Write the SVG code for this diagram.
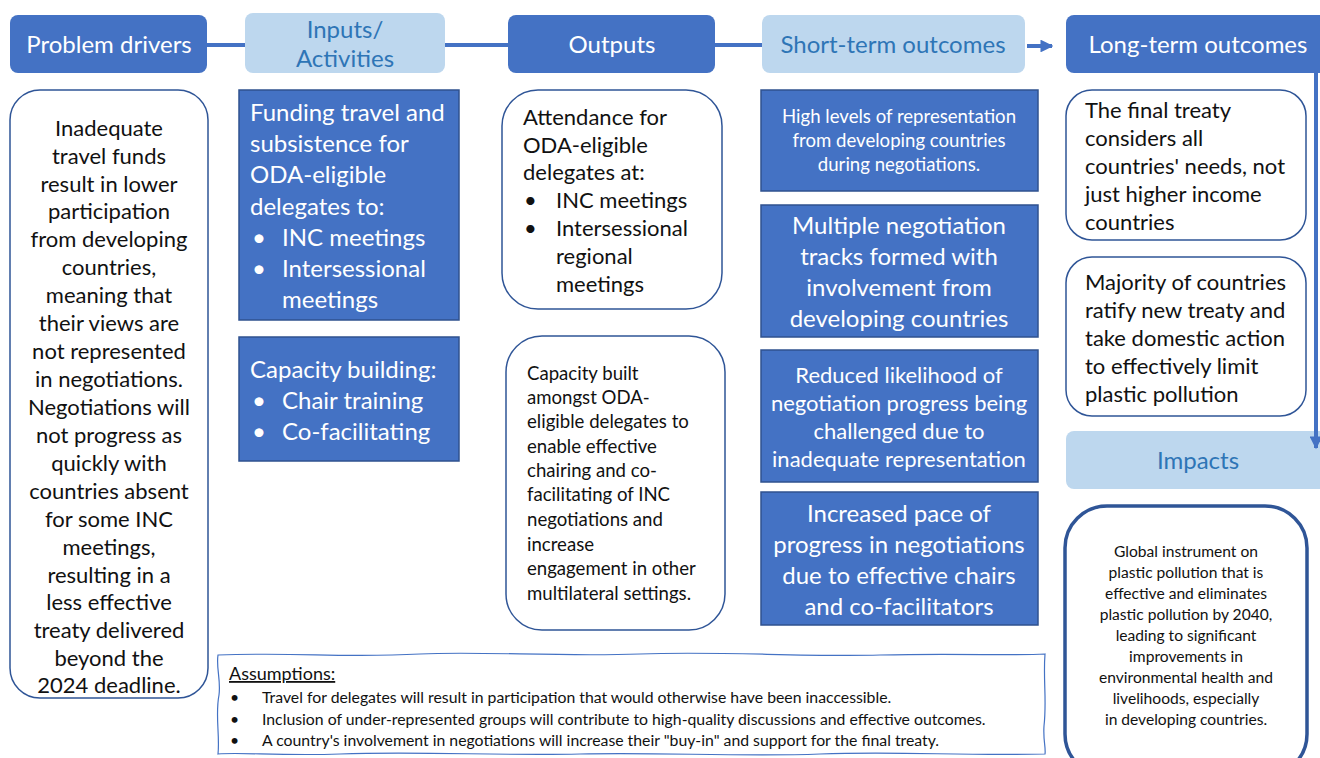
<svg xmlns="http://www.w3.org/2000/svg" width="1320" height="758" viewBox="0 0 1320 758">
<defs>
<marker id="ah" viewBox="0 0 10 10" refX="9" refY="5" markerWidth="3.2" markerHeight="3.2" orient="auto" markerUnits="strokeWidth"><path d="M0,0 L10,5 L0,10 z" fill="#4472C4"/></marker>
<marker id="ah2" viewBox="0 0 10 10" refX="9" refY="5" markerWidth="3.6" markerHeight="3.2" orient="auto" markerUnits="strokeWidth"><path d="M0,0 L10,5 L0,10 z" fill="#4472C4"/></marker>
<style>
text{font-family:Lato,"Liberation Sans",sans-serif}
.dk{fill:#4472C4;stroke:#2F528F;stroke-width:1.5}
.hd{fill:#4472C4}
.lt{fill:#BDD7EE}
.ol{fill:#fff;stroke:#2F5597;stroke-width:1.5}
.wh{fill:#fff}
.bl{fill:#2E75B6}
.k{fill:#111}
.c{text-anchor:middle}
.conn{stroke:#4472C4;stroke-width:4;fill:none}
</style>
</defs>
<rect width="1320" height="758" fill="#fff"/>
<g id="h-problem"><rect class="hd" x="10" y="15" width="197" height="58" rx="8"/><text class="wh c" x="109" y="53" font-size="24">Problem drivers</text></g>
<g id="h-inputs"><rect class="lt" x="245" y="13" width="200" height="60" rx="8"/><text class="bl c" x="345" y="38" font-size="24">Inputs/</text><text class="bl c" x="345" y="67" font-size="24">Activities</text></g>
<g id="h-outputs"><rect class="hd" x="508" y="15" width="207" height="58" rx="8"/><text class="wh c" x="612" y="53" font-size="24">Outputs</text></g>
<g id="h-short"><rect class="lt" x="762" y="15" width="263" height="58" rx="8"/><text class="bl c" x="893" y="53" font-size="24">Short-term outcomes</text></g>
<g id="h-long"><rect class="hd" x="1066" y="15" width="264" height="58" rx="8"/><text class="wh c" x="1198" y="53" font-size="24">Long-term outcomes</text></g>
<g id="problem"><rect class="ol" x="10" y="90" width="198" height="608" rx="30"/>
<text class="k c" font-size="22" x="109">
<tspan x="109" y="136">Inadequate</tspan><tspan x="109" y="164">travel funds</tspan><tspan x="109" y="192">result in lower</tspan><tspan x="109" y="219">participation</tspan><tspan x="109" y="247">from developing</tspan><tspan x="109" y="275">countries,</tspan><tspan x="109" y="303">meaning that</tspan><tspan x="109" y="331">their views are</tspan><tspan x="109" y="359">not represented</tspan><tspan x="109" y="387">in negotiations.</tspan><tspan x="109" y="415">Negotiations will</tspan><tspan x="109" y="443">not progress as</tspan><tspan x="109" y="471">quickly with</tspan><tspan x="109" y="499">countries absent</tspan><tspan x="109" y="527">for some INC</tspan><tspan x="109" y="555">meetings,</tspan><tspan x="109" y="583">resulting in a</tspan><tspan x="109" y="610">less effective</tspan><tspan x="109" y="638">treaty delivered</tspan><tspan x="109" y="666">beyond the</tspan><tspan x="109" y="693">2024 deadline.</tspan>
</text></g>
<g id="in-funding"><rect class="dk" x="239" y="90" width="220" height="230"/>
<text class="wh" font-size="24"><tspan x="250" y="121">Funding travel and</tspan><tspan x="250" y="152">subsistence for</tspan><tspan x="250" y="183">ODA-eligible</tspan><tspan x="250" y="215">delegates to:</tspan><tspan x="252" y="246">•</tspan><tspan x="282" y="246">INC meetings</tspan><tspan x="252" y="277">•</tspan><tspan x="282" y="277">Intersessional</tspan><tspan x="282" y="308">meetings</tspan></text></g>
<g id="in-capacity"><rect class="dk" x="239" y="337" width="220" height="124"/>
<text class="wh" font-size="24"><tspan x="250" y="378">Capacity building:</tspan><tspan x="252" y="409">•</tspan><tspan x="282" y="409">Chair training</tspan><tspan x="252" y="440">•</tspan><tspan x="282" y="440">Co-facilitating</tspan></text></g>
<g id="out-attendance"><rect class="ol" x="502" y="90" width="220" height="219" rx="36"/>
<text class="k" font-size="22"><tspan x="523" y="125">Attendance for</tspan><tspan x="523" y="153">ODA-eligible</tspan><tspan x="523" y="180">delegates at:</tspan><tspan x="524" y="208">•</tspan><tspan x="556" y="208">INC meetings</tspan><tspan x="524" y="236">•</tspan><tspan x="556" y="236">Intersessional</tspan><tspan x="556" y="264">regional</tspan><tspan x="556" y="292">meetings</tspan></text></g>
<g id="out-capacity"><rect class="ol" x="506" y="336" width="219" height="294" rx="36"/>
<text class="k" font-size="18.6"><tspan x="527" y="380">Capacity built</tspan><tspan x="527" y="404">amongst ODA-</tspan><tspan x="527" y="428">eligible delegates to</tspan><tspan x="527" y="453">enable effective</tspan><tspan x="527" y="477">chairing and co-</tspan><tspan x="527" y="501">facilitating of INC</tspan><tspan x="527" y="526">negotiations and</tspan><tspan x="527" y="551">increase</tspan><tspan x="527" y="575">engagement in other</tspan><tspan x="527" y="600">multilateral settings.</tspan></text></g>
<g id="st-1"><rect class="dk" x="761" y="90" width="277" height="101"/>
<text class="wh c" font-size="18.6"><tspan x="899" y="123">High levels of representation</tspan><tspan x="899" y="147">from developing countries</tspan><tspan x="899" y="171">during negotiations.</tspan></text></g>
<g id="st-2"><rect class="dk" x="761" y="205" width="277" height="132"/>
<text class="wh c" font-size="24"><tspan x="899" y="234">Multiple negotiation</tspan><tspan x="899" y="265">tracks formed with</tspan><tspan x="899" y="296">involvement from</tspan><tspan x="899" y="327">developing countries</tspan></text></g>
<g id="st-3"><rect class="dk" x="761" y="350" width="277" height="132"/>
<text class="wh c" font-size="22"><tspan x="899" y="383">Reduced likelihood of</tspan><tspan x="899" y="411">negotiation progress being</tspan><tspan x="899" y="439">challenged due to</tspan><tspan x="899" y="467">inadequate representation</tspan></text></g>
<g id="st-4"><rect class="dk" x="761" y="492" width="277" height="133"/>
<text class="wh c" font-size="24"><tspan x="899" y="522">Increased pace of</tspan><tspan x="899" y="553">progress in negotiations</tspan><tspan x="899" y="584">due to effective chairs</tspan><tspan x="899" y="615">and co-facilitators</tspan></text></g>
<g id="lt-1"><rect class="ol" x="1066" y="90" width="240" height="150" rx="26"/>
<text class="k" font-size="22"><tspan x="1085" y="118">The final treaty</tspan><tspan x="1085" y="146">considers all</tspan><tspan x="1085" y="174">countries' needs, not</tspan><tspan x="1085" y="202">just higher income</tspan><tspan x="1085" y="230">countries</tspan></text></g>
<g id="lt-2"><rect class="ol" x="1066" y="257" width="240" height="159" rx="26"/>
<text class="k" font-size="22"><tspan x="1085" y="290">Majority of countries</tspan><tspan x="1085" y="318">ratify new treaty and</tspan><tspan x="1085" y="346">take domestic action</tspan><tspan x="1085" y="374">to effectively limit</tspan><tspan x="1085" y="402">plastic pollution</tspan></text></g>
<g id="h-impacts"><rect class="lt" x="1066" y="431" width="264" height="58" rx="8"/><text class="bl c" x="1198" y="469" font-size="24">Impacts</text></g>
<g id="impact"><rect x="1065" y="506" width="242" height="270" rx="42" fill="#fff" stroke="#2F5597" stroke-width="3.5"/>
<text class="k c" font-size="15.6"><tspan x="1186" y="557">Global instrument on</tspan><tspan x="1186" y="578">plastic pollution that is</tspan><tspan x="1186" y="599">effective and eliminates</tspan><tspan x="1186" y="620">plastic pollution by 2040,</tspan><tspan x="1186" y="641">leading to significant</tspan><tspan x="1186" y="662">improvements in</tspan><tspan x="1186" y="683">environmental health and</tspan><tspan x="1186" y="704">livelihoods, especially</tspan><tspan x="1186" y="725">in developing countries.</tspan></text></g>
<g id="assumptions">
<path d="M218,655 C300,652 340,658 420,654 C480,651 560,657 640,654 C720,651 800,657 880,655 C960,653 1010,656 1045,654 C1043,680 1047,700 1044,726 C1043,740 1046,748 1045,754 C960,756 900,751 820,754 C740,757 660,752 580,754 C500,756 420,751 340,754 C280,756 240,752 218,754 C220,735 215,715 219,695 C221,680 216,668 218,655 Z" fill="#fff" stroke="#4472C4" stroke-width="1.2"/>
<text class="k" font-size="18" x="229" y="680" text-decoration="underline">Assumptions:</text>
<text class="k" font-size="15.8"><tspan x="230" y="703">•</tspan><tspan x="262" y="703">Travel for delegates will result in participation that would otherwise have been inaccessible.</tspan><tspan x="230" y="725">•</tspan><tspan x="262" y="725">Inclusion of under-represented groups will contribute to high-quality discussions and effective outcomes.</tspan><tspan x="230" y="746">•</tspan><tspan x="262" y="746">A country's involvement in negotiations will increase their "buy-in" and support for the final treaty.</tspan></text>
</g>
<g id="connectors">
<line class="conn" x1="207" y1="45" x2="245" y2="45"/>
<line class="conn" x1="445" y1="45" x2="508" y2="45"/>
<line class="conn" x1="715" y1="45" x2="762" y2="45"/>
<line class="conn" x1="1027" y1="46" x2="1052" y2="46" marker-end="url(#ah)"/>
<line class="conn" x1="1316" y1="73" x2="1316" y2="448" stroke-width="5" marker-end="url(#ah2)"/>
</g>
</svg>
